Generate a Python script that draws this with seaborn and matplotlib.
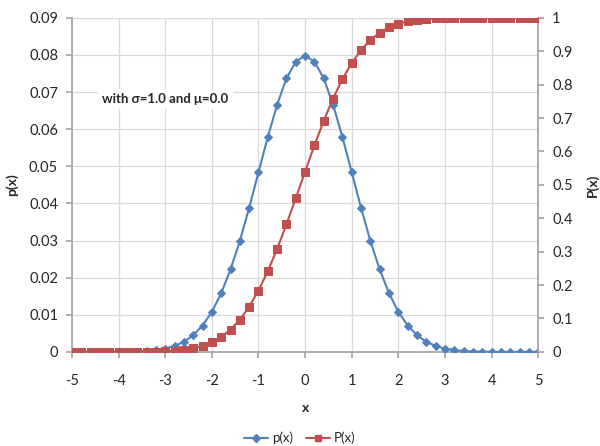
import numpy as np
import pandas as pd
import matplotlib
matplotlib.use("Agg")
import matplotlib.pyplot as plt
import matplotlib.ticker as mticker
import seaborn as sns

sns.set_theme(style="white")
plt.rcParams["font.family"] = ["Lato", "DejaVu Sans"]
plt.rcParams["axes.unicode_minus"] = False

# ── Données ────────────────────────────────────────────────────────────────────
x_vals = [-5.0, -4.8, -4.6, -4.4, -4.2, -4.0, -3.8, -3.6, -3.4, -3.2,
          -3.0, -2.8, -2.6, -2.4, -2.2, -2.0, -1.8, -1.6, -1.4, -1.2,
          -1.0, -0.8, -0.6, -0.4, -0.2, 0.0, 0.2, 0.4, 0.6, 0.8,
          1.0, 1.2, 1.4, 1.6, 1.8, 2.0, 2.2, 2.4, 2.6, 2.8,
          3.0, 3.2, 3.4, 3.6, 3.8, 4.0, 4.2, 4.4, 4.6, 4.8, 5.0]

p_vals = [0.0000, 0.0000, 0.0000, 0.0000, 0.0000, 0.0000, 0.0001, 0.0001, 0.0002, 0.0005,
          0.0009, 0.0016, 0.0027, 0.0045, 0.0071, 0.0108, 0.0158, 0.0222, 0.0299, 0.0388,
          0.0484, 0.0579, 0.0666, 0.0737, 0.0782, 0.0798, 0.0782, 0.0737, 0.0666, 0.0579,
          0.0484, 0.0388, 0.0299, 0.0222, 0.0158, 0.0108, 0.0071, 0.0045, 0.0027, 0.0016,
          0.0009, 0.0005, 0.0002, 0.0001, 0.0001, 0.0000, 0.0000, 0.0000, 0.0000, 0.0000, 0.0000]

P_vals = [0.0000, 0.0000, 0.0000, 0.0000, 0.0000, 0.0000, 0.0001, 0.0002, 0.0005, 0.0009,
          0.0018, 0.0034, 0.0061, 0.0106, 0.0177, 0.0285, 0.0443, 0.0665, 0.0964, 0.1352,
          0.1836, 0.2416, 0.3082, 0.3819, 0.4601, 0.5399, 0.6181, 0.6918, 0.7584, 0.8164,
          0.8648, 0.9036, 0.9336, 0.9557, 0.9715, 0.9823, 0.9894, 0.9939, 0.9966, 0.9982,
          0.9991, 0.9996, 0.9998, 0.9999, 1.0000, 1.0000, 1.0000, 1.0000, 1.0000, 1.0000, 1.0000]

df = pd.DataFrame({"x": x_vals, "p": p_vals, "P": P_vals})

BLUE = "#4F81BD"
RED = "#C0504D"
GRID = "#D9D9D9"
AXIS = "#A6A6A6"
TXT = "#262626"

# ── Figure ─────────────────────────────────────────────────────────────────────
fig = plt.figure(figsize=(6, 4.46), dpi=100)
ax = fig.add_axes([0.12, 0.211, 0.777, 0.749])
ax2 = ax.twinx()

sns.lineplot(data=df, x="x", y="p", ax=ax, color=BLUE, marker="D", markersize=4,
             markeredgecolor=BLUE, linewidth=1.5, zorder=3)
sns.lineplot(data=df, x="x", y="P", ax=ax2, color=RED, marker="s", markersize=5.5,
             markeredgecolor=RED, linewidth=1.5, zorder=3)

ax.set_xlim(-5, 5)
ax.set_ylim(0, 0.09)
ax2.set_ylim(0, 1)
ax.xaxis.set_major_locator(mticker.MultipleLocator(1))
ax.yaxis.set_major_locator(mticker.MultipleLocator(0.01))
ax2.yaxis.set_major_locator(mticker.MultipleLocator(0.1))
ax.yaxis.set_major_formatter(mticker.FuncFormatter(lambda v, _: "0" if abs(v) < 1e-9 else f"{v:.2f}"))
ax2.yaxis.set_major_formatter(mticker.FuncFormatter(
    lambda v, _: "0" if abs(v) < 1e-9 else ("1" if abs(v - 1) < 1e-9 else f"{v:.1f}")))

# grille
for v in np.arange(-5, 6, 1):
    ax.axvline(v, color=GRID, linewidth=0.9, zorder=0)
for v in np.arange(0.01, 0.095, 0.01):
    ax.axhline(v, color=GRID, linewidth=0.9, zorder=0)

for a in (ax, ax2):
    for s in a.spines.values():
        s.set_visible(False)
ax.spines["left"].set_visible(True)
ax.spines["left"].set_color(AXIS)
ax.spines["bottom"].set_visible(True)
ax.spines["bottom"].set_color(AXIS)
ax2.spines["right"].set_visible(True)
ax2.spines["right"].set_color(AXIS)

ax.tick_params(axis="both", direction="out", length=4, color=AXIS, labelsize=10.5,
               labelcolor=TXT, pad=6, left=True, bottom=True)
ax2.tick_params(axis="y", direction="out", length=4, color=AXIS, labelsize=10.5,
                labelcolor=TXT, pad=6, right=True)
ax.tick_params(axis="x", pad=12)

ax.set_xlabel("x", fontsize=10, fontweight="bold", color=TXT, labelpad=10)
ax.set_ylabel("p(x)", fontsize=10, fontweight="bold", color=TXT, labelpad=8)
ax2.set_ylabel("P(x)", fontsize=10, fontweight="bold", color=TXT, labelpad=10)

ax.text(-3.0, 0.0682, "with σ=1.0 and μ=0.0", fontsize=9.5, fontweight="bold",
        color=TXT, ha="center", va="center", zorder=4,
        bbox=dict(facecolor="white", edgecolor="none", pad=3))

# légende
h1, = ax.plot([], [], color=BLUE, marker="D", markersize=4, linewidth=1.5)
h2, = ax.plot([], [], color=RED, marker="s", markersize=5, linewidth=1.5)
fig.legend([h1, h2], ["p(x)", "P(x)"], loc="center", bbox_to_anchor=(0.5, 0.018),
           ncol=2, frameon=False, fontsize=9.5, handlelength=1.8, columnspacing=1.0,
           handletextpad=0.3)

fig.savefig("out.png", dpi=100)
